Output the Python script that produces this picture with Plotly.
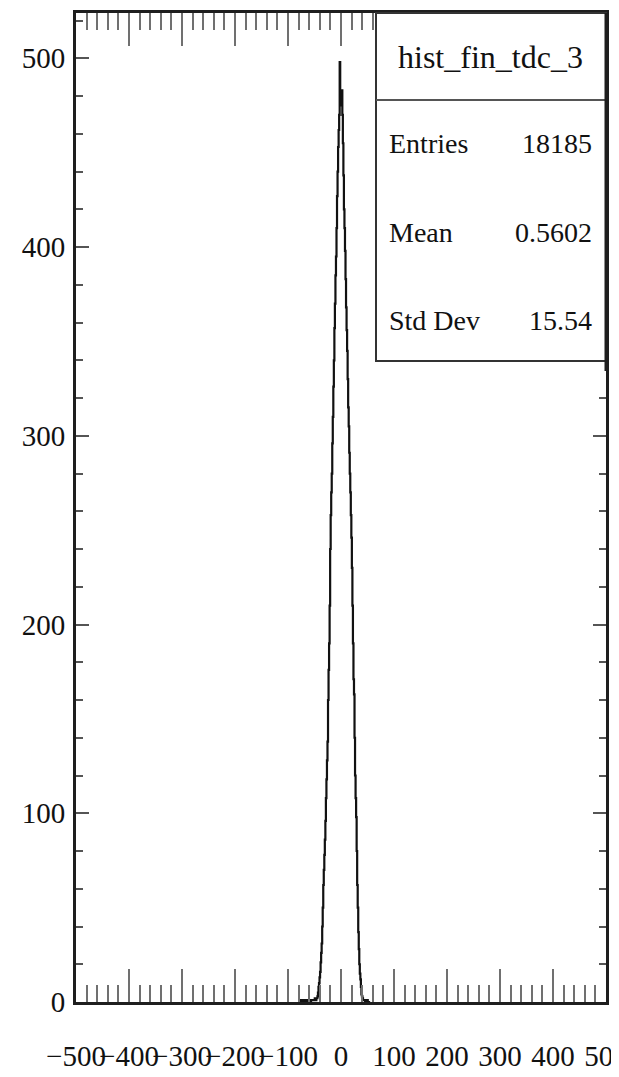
import plotly.graph_objects as go

# ---- data ----
bin_low_center = -80          # centre of first listed bin (bin width 1, range -500..500)
counts = [
    # -80 .. -46
    0, 0, 0, 1, 0, 1, 1, 0, 1, 1, 0, 1, 1, 1, 0, 1, 1, 1, 1, 0,
    1, 1, 1, 0, 1, 1, 1, 1, 1, 1, 1, 2, 1, 1, 2,
    # -45 .. -1
    2, 3, 5, 8, 10, 13, 16, 21, 26, 31, 40, 50, 62, 70, 78, 86, 96, 108, 118, 128,
    138, 160, 176, 190, 210, 240, 258, 270, 280, 296, 310, 326, 340, 357, 370, 385,
    395, 410, 427, 440, 453, 462, 470, 498, 480,
    # 0 .. 44
    475, 483, 483, 470, 455, 438, 420, 410, 398, 383, 368, 356, 345, 330, 315, 305,
    291, 280, 270, 258, 246, 230, 210, 190, 171, 163, 140, 120, 108, 98, 80, 62,
    50, 37, 28, 20, 15, 12, 8, 4, 3, 2, 1, 1, 1,
    # 45 .. 55
    1, 0, 1, 0, 0, 1, 0, 0, 0, 0, 0,
]
bin_centers = [bin_low_center + i for i in range(len(counts))]

x_tick_values = [-500, -400, -300, -200, -100, 0, 100, 200, 300, 400, 500]
y_tick_values = [0, 100, 200, 300, 400, 500]
x_range = [-500, 500]
y_range = [0, 524]

hist_name = "hist_fin_tdc_3"
stat_labels = ["Entries", "Mean", "Std Dev"]
stat_values = ["18185", "0.5602", "15.54"]

# ---- figure ----
# The page body has an 8px margin, so the figure is sized/offset to compensate.
OFF = 8
W, H = 611, 1061
ML, MR, MT, MB = 68, 13, 5, 67
plot_w = W - ML - MR
plot_h = H - MT - MB

def px_x(sx):  # screen x -> paper x
    return (sx - OFF - ML) / plot_w

def px_y(sy):  # screen y -> paper y
    return (H - MB - (sy - OFF)) / plot_h

FONT = "Liberation Serif"
TICKC = "#707070"
FRAMEC = "#1e1e1e"
TXT = "#111111"

fig = go.Figure()
fig.add_trace(go.Scatter(
    x=bin_centers, y=counts, mode="lines",
    line=dict(color="#111111", width=2.2, shape="hvh"),
    hoverinfo="skip", showlegend=False,
))

fig.update_layout(
    width=W, height=H,
    margin=dict(l=ML, r=MR, t=MT, b=MB, pad=0, autoexpand=False),
    paper_bgcolor="white", plot_bgcolor="white",
    font=dict(family=FONT, color=TXT, size=29),
    showlegend=False,
)

fig.update_xaxes(
    range=x_range, tickmode="array", tickvals=x_tick_values,
    ticks="inside", ticklen=33, tickwidth=2, tickcolor=TICKC,
    minor=dict(dtick=20, tick0=0, ticks="inside", ticklen=17, tickwidth=2,
               tickcolor=TICKC, showgrid=False),
    showline=True, linecolor=FRAMEC, linewidth=3, mirror="ticks",
    showgrid=False, zeroline=False, tickangle=0, automargin=False,
    tickfont=dict(family=FONT, size=29, color=TXT),
    ticklabelstandoff=26, ticklabeloverflow="allow",
)
fig.update_yaxes(
    range=y_range, tickmode="array", tickvals=y_tick_values,
    ticks="inside", ticklen=13, tickwidth=2, tickcolor="#555555",
    minor=dict(dtick=20, tick0=0, ticks="inside", ticklen=7, tickwidth=2,
               tickcolor="#555555", showgrid=False),
    showline=True, linecolor=FRAMEC, linewidth=3, mirror="ticks",
    showgrid=False, zeroline=False, automargin=False,
    tickfont=dict(family=FONT, size=29, color=TXT),
    ticklabelstandoff=2,
)

# stats box
box_x0 = px_x(376)
box_y0 = px_y(361)
fig.add_shape(type="rect", xref="paper", yref="paper",
              x0=box_x0, x1=1.0, y0=box_y0, y1=1.0,
              fillcolor="white", line=dict(color="#333333", width=2), layer="above")
fig.add_shape(type="line", xref="paper", yref="paper",
              x0=box_x0, x1=1.0, y0=px_y(100), y1=px_y(100),
              line=dict(color="#555555", width=2), layer="above")
# re-draw right frame edge over the box
fig.add_shape(type="line", xref="paper", yref="paper",
              x0=1.0, x1=1.0, y0=box_y0 - 0.01, y1=1.0,
              line=dict(color=FRAMEC, width=3), layer="above")

fig.add_annotation(xref="paper", yref="paper", x=px_x(490), y=px_y(57),
                   text=hist_name, showarrow=False, xanchor="center", yanchor="middle",
                   font=dict(family=FONT, size=32, color=TXT))
row_y = [143, 232, 320]
for lab, val, ry in zip(stat_labels, stat_values, row_y):
    fig.add_annotation(xref="paper", yref="paper", x=px_x(387), y=px_y(ry),
                       text=lab, showarrow=False, xanchor="left", yanchor="middle",
                       font=dict(family=FONT, size=28, color=TXT))
    fig.add_annotation(xref="paper", yref="paper", x=px_x(594), y=px_y(ry),
                       text=val, showarrow=False, xanchor="right", yanchor="middle",
                       font=dict(family=FONT, size=28, color=TXT))

fig.write_html("out.html")
